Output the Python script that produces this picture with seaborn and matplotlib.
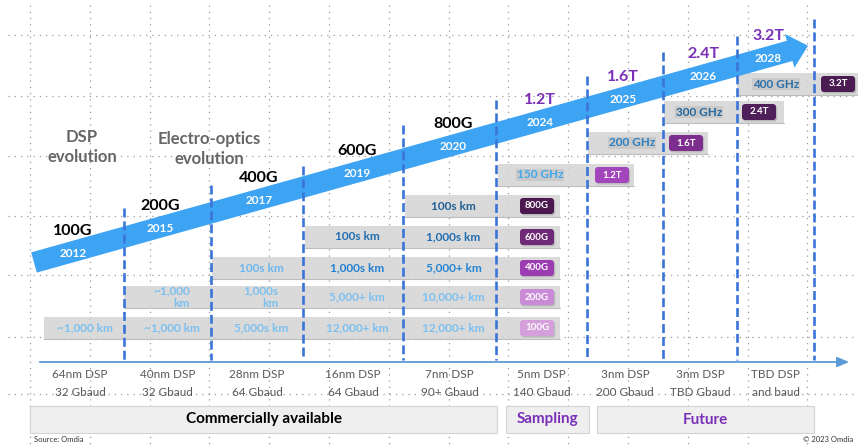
import numpy as np
import pandas as pd
import matplotlib
matplotlib.use("Agg")
import matplotlib.pyplot as plt
from matplotlib.patches import Rectangle, FancyBboxPatch, Polygon
import seaborn as sns

# ---------------- data ----------------
generations = ["100G", "200G", "400G", "600G", "800G", "1.2T", "1.6T", "2.4T", "3.2T"]
years = ["2012", "2015", "2017", "2019", "2020", "2024", "2025", "2026", "2028"]
dsp_nodes = ["64nm DSP", "40nm DSP", "28nm DSP", "16nm DSP", "7nm DSP",
             "5nm DSP", "3nm DSP", "3nm DSP", "TBD DSP"]
baud_rates = ["32 Gbaud", "32 Gbaud", "64 Gbaud", "64 Gbaud", "90+ Gbaud",
              "140 Gbaud", "200 Gbaud", "TBD Gbaud", "and baud"]

# reach by DSP generation (columns 0..4) for each line rate
reach_800G = [None, None, None, None, "100s km"]
reach_600G = [None, None, None, "100s km", "1,000s km"]
reach_400G = [None, None, "100s km", "1,000s km", "5,000+ km"]
reach_200G = [None, "~1,000\nkm", "1,000s\nkm", "5,000+ km", "10,000+ km"]
reach_100G = ["~1,000 km", "~1,000 km", "5,000s km", "12,000+ km", "12,000+ km"]
reach_rates = ["800G", "600G", "400G", "200G", "100G"]

future_rates = ["1.2T", "1.6T", "2.4T", "3.2T"]
channel_spacing = ["150 GHz", "200 GHz", "300 GHz", "400 GHz"]

phases = ["Commercially available", "Sampling", "Future"]
phase_cols = [(0, 4), (5, 5), (6, 8)]

# ---------------- layout / style ----------------
W, H = 858, 445
col_edges = [37, 124, 211, 303, 403, 496, 587, 663, 737, 814]
sep_tops = [208, 185, 166, 125, 100, 76, 52, 36, 19]
label_x = [73, 160, 259, 357, 453, 540, 623, 703, 768]

reach_row_y = [206, 237, 268, 297, 328]
reach_row_x0 = [405, 305, 212, 124, 44]
reach_box_x1 = 560
badge_x = 537
reach_colors = {
    "800G": ["#1f5f95"] * 5,
    "600G": ["#1f6db0"] * 5,
    "400G": ["#6cb7ee", "#6cb7ee", "#6cb7ee", "#1f80d2", "#2585d6"],
    "200G": ["#7cc0f0"] * 5,
    "100G": ["#7cc0f0"] * 5,
}
reach_weight = {
    "800G": "bold", "600G": "bold", "400G": "bold", "200G": "bold", "100G": "bold",
}
badge_colors = {
    "800G": "#4b1850", "600G": "#6e2a77", "400G": "#9c3cb2",
    "200G": "#c98ad6", "100G": "#d49fdb",
    "1.2T": "#a346bb", "1.6T": "#7d2d8e", "2.4T": "#4e1f58", "3.2T": "#4a1c52",
}
future_row_y = [175, 143, 112, 84]
future_box_x = [(498, 634), (588, 708), (664, 784), (737, 860)]
future_text_x = [540, 632, 699, 776]
future_badge_x = [612, 686, 759, 838]
future_text_colors = ["#3ea6ee", "#2a7fc0", "#2367a0", "#2a6fa8"]

arrow_color = "#3da3f3"
sep_color = "#3b74d9"
purple = "#7a2fb8"

sns.set_theme(style="white")
plt.rcParams["font.family"] = ["Lato", "DejaVu Sans"]

fig = plt.figure(figsize=(W / 100, H / 100), dpi=100)
ax = fig.add_axes([0, 0, 1, 1])

# dotted background grid
for gx in np.arange(30, 860, 59.8):
    ax.plot([gx, gx], [5, H], color="#9a9a9a", lw=0.9, ls=(0, (1, 4)), zorder=0)
for gy in [35, 96, 156, 216, 275, 337, 394]:
    ax.plot([8, W], [gy, gy], color="#9a9a9a", lw=0.9, ls=(0, (1, 4)), zorder=0)

# main arrow
def yc(x):
    return 146 - 0.28 * (x - 450)

s = -0.28
d = np.array([1.0, s]) / np.hypot(1, s)
n = np.array([-d[1], d[0]])
P0 = np.array([34.0, yc(34)])
T = np.array([808.0, yc(808)])
L = np.hypot(*(T - P0))
B = P0 + (L - 19) * d
w, hw = 10.5, 17.5
poly = [P0 - w * n, B - w * n, B - hw * n, T, B + hw * n, B + w * n, P0 + w * n]
ax.add_patch(Polygon(poly, closed=True, facecolor=arrow_color, edgecolor="none", zorder=3))

# separators (seaborn)
sep_df = pd.DataFrame({
    "x": np.repeat(col_edges[1:], 2),
    "y": np.ravel([[t, 360] for t in sep_tops]),
    "sep": np.repeat(np.arange(len(sep_tops)), 2),
})
n_before = len(ax.get_lines())
sns.lineplot(data=sep_df, x="x", y="y", units="sep", estimator=None, sort=False,
             color=sep_color, lw=1.9, ax=ax, legend=False, zorder=6)
for ln in ax.get_lines()[n_before:]:
    ln.set_linestyle((0, (3.4, 1.5)))
ax.set_xlim(0, W)
ax.set_ylim(H, 0)
ax.axis("off")

# generation + year labels
for i, (g, yr) in enumerate(zip(generations, years)):
    x = label_x[i]
    ax.text(x, yc(x) + 1.5, yr, color="white", fontsize=8.5, fontweight="bold",
            ha="center", va="center", zorder=5)
    ax.text(x, yc(x) - 21, g, color="black" if i < 5 else purple, fontsize=11.5,
            fontweight="bold", ha="center", va="center", zorder=5)

ax.text(82, 147, "DSP\nevolution", color="#666666", fontsize=12, fontweight="bold",
        ha="center", va="center", linespacing=1.25, zorder=5)
ax.text(209, 149, "Electro-optics\nevolution", color="#666666", fontsize=12,
        fontweight="bold", ha="center", va="center", linespacing=1.25, zorder=5)

# badge helper
def badge(xc, yc_, text, color):
    bw, bh = 34, 16
    ax.add_patch(FancyBboxPatch((xc - bw / 2 + 1.2, yc_ - bh / 2 + 1.5), bw, bh,
                                boxstyle="round,pad=0,rounding_size=3",
                                facecolor="#9a9a9a", edgecolor="none", alpha=0.5, zorder=4))
    ax.add_patch(FancyBboxPatch((xc - bw / 2, yc_ - bh / 2), bw, bh,
                                boxstyle="round,pad=0,rounding_size=3",
                                facecolor=color, edgecolor="none", zorder=4))
    ax.text(xc, yc_, text, color="white", fontsize=7, fontweight="bold",
            ha="center", va="center", zorder=5)

# reach rows
reach_table = [reach_800G, reach_600G, reach_400G, reach_200G, reach_100G]
for r, (rate, row) in enumerate(zip(reach_rates, reach_table)):
    y = reach_row_y[r]
    x0 = reach_row_x0[r]
    ax.add_patch(Rectangle((x0, y - 11), reach_box_x1 - x0, 22, facecolor="#d6d6d6",
                           edgecolor="none", alpha=0.9, zorder=2))
    ax.plot([x0, reach_box_x1], [y + 11, y + 11], color="#bdbdbd", lw=0.8, zorder=2)
    for c, txt in enumerate(row):
        if txt is None:
            continue
        xc = (col_edges[c] + col_edges[c + 1]) / 2 + 4
        ax.text(xc, y, txt, color=reach_colors[rate][c], fontsize=8.5,
                fontweight=reach_weight[rate], ha="center", va="center",
                multialignment="right", linespacing=1.2, zorder=5)
    badge(badge_x, y, rate, badge_colors[rate])

# future rows
for i, rate in enumerate(future_rates):
    y = future_row_y[i]
    x0, x1 = future_box_x[i]
    ax.add_patch(Rectangle((x0, y - 11), x1 - x0, 22, facecolor="#d6d6d6",
                           edgecolor="none", alpha=0.9, zorder=2))
    ax.plot([x0, x1], [y + 11, y + 11], color="#bdbdbd", lw=0.8, zorder=2)
    ax.text(future_text_x[i], y, channel_spacing[i], color=future_text_colors[i],
            fontsize=8.5, fontweight="bold", ha="center", va="center", zorder=5,
            bbox=dict(boxstyle="square,pad=0.08", facecolor="#c9c9c9", edgecolor="none"))
    badge(future_badge_x[i], y, rate, badge_colors[rate])

# time axis
ax.annotate("", xy=(852, 362), xytext=(37, 362),
            arrowprops=dict(arrowstyle="-|>,head_length=0.6,head_width=0.25",
                            color="#5b9bd5", lw=1.3), zorder=6)

# DSP / baud labels
for i, (dn, br) in enumerate(zip(dsp_nodes, baud_rates)):
    xc = (col_edges[i] + col_edges[i + 1]) / 2
    if i == 0:
        xc = 80
    ax.text(xc, 375, dn, color="#595959", fontsize=8.5, ha="center", va="center", zorder=5)
    ax.text(xc, 393, br, color="#595959", fontsize=8.5, ha="center", va="center", zorder=5)

# phase bars
phase_x = {0: 30, 4: 497, 5: 506, 6: 597, 8: 814}
phase_x_end = {4: 497, 5: 589, 8: 814}
phase_colors = ["black", purple, purple]
for (c0, c1), name, col in zip(phase_cols, phases, phase_colors):
    x0 = phase_x[c0]
    x1 = phase_x_end[c1]
    ax.add_patch(Rectangle((x0, 406), x1 - x0, 27, facecolor="#efefef",
                           edgecolor="#d4d4d4", lw=0.8, zorder=2))
    ax.text((x0 + x1) / 2, 419.5, name, color=col, fontsize=11, fontweight="bold",
            ha="center", va="center", zorder=5)

ax.text(34, 440, "Source: Omdia", color="#333333", fontsize=5.5, ha="left", va="center")
ax.text(853, 440, "\u00a9 2023 Omdia", color="#333333", fontsize=5.5, ha="right", va="center")

fig.savefig("out.png", dpi=100)
